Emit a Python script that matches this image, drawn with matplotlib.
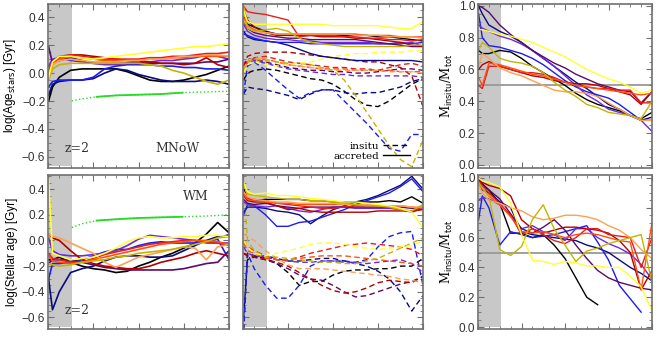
import matplotlib
matplotlib.use('Agg')
import matplotlib.pyplot as plt
from matplotlib.ticker import MultipleLocator, NullFormatter
from matplotlib.lines import Line2D
import numpy as np

nan = np.nan

# time grid shared by every track
t = [0.05, 0.4, 1, 2, 3, 4, 5, 6, 7, 8, 9, 10, 11, 12, 13, 14, 15, 16]
t_z2 = 2.1

# one colour per galaxy
colors = ['#000000', '#0a0a80', '#1c1cf0', '#6a2ae0', '#5a0a6a', '#b00000',
          '#e81c1c', '#ff5010', '#ffa050', '#c4b400', '#ffff30']

# log age, MNoW
age_mnow = [
    [-0.20, -0.10, -0.03, 0.02, 0.03, 0.03, 0.03, 0.03, 0.01, -0.02, -0.05, -0.06, -0.06, -0.05, -0.03, -0.01, 0.02, 0.05],
    [-0.16, -0.08, -0.06, -0.05, -0.05, -0.04, 0.00, 0.03, 0.02, -0.01, -0.03, -0.05, -0.06, -0.06, -0.06, -0.05, -0.06, -0.08],
    [-0.10, -0.06, -0.05, -0.05, -0.05, -0.03, 0.03, 0.05, 0.06, 0.06, 0.06, 0.05, 0.05, 0.04, 0.04, 0.03, 0.03, 0.02],
    [0.05, 0.10, 0.11, 0.09, 0.08, 0.07, 0.06, 0.06, 0.07, 0.08, 0.08, 0.09, 0.09, 0.10, 0.11, 0.13, 0.12, 0.10],
    [0.19, 0.07, 0.09, 0.11, 0.09, 0.07, 0.07, 0.07, 0.07, 0.07, 0.07, 0.07, 0.07, 0.07, 0.07, 0.08, 0.08, 0.10],
    [0.00, 0.08, 0.12, 0.13, 0.13, 0.12, 0.11, 0.10, 0.09, 0.08, 0.08, 0.07, 0.07, 0.06, 0.07, 0.11, 0.06, 0.04],
    [0.02, 0.07, 0.10, 0.13, 0.12, 0.11, 0.10, 0.10, 0.10, 0.10, 0.11, 0.11, 0.12, 0.12, 0.13, 0.14, 0.14, 0.15],
    [-0.02, 0.06, 0.10, 0.12, 0.11, 0.10, 0.09, 0.09, 0.09, 0.09, 0.10, 0.10, 0.11, 0.11, 0.12, 0.12, 0.12, 0.12],
    [0.00, 0.06, 0.09, 0.10, 0.09, 0.08, 0.08, 0.08, 0.09, 0.09, 0.10, 0.10, 0.11, 0.12, 0.12, 0.13, 0.13, 0.12],
    [-0.05, 0.03, 0.06, 0.07, 0.07, 0.07, 0.07, 0.07, 0.07, 0.07, 0.06, 0.05, 0.02, 0.00, -0.03, -0.06, -0.08, -0.05],
    [-0.03, 0.08, 0.12, 0.12, 0.11, 0.10, 0.11, 0.12, 0.13, 0.14, 0.15, 0.16, 0.17, 0.18, 0.19, 0.19, 0.20, 0.21],
]

# log age, WM
age_wm = [
    [-0.15, -0.15, -0.13, -0.17, -0.20, -0.22, -0.23, -0.25, -0.24, -0.20, -0.17, -0.13, -0.10, -0.06, -0.02, 0.05, 0.14, 0.06],
    [-0.30, -0.54, -0.40, -0.25, -0.22, -0.20, -0.16, -0.13, -0.12, -0.12, -0.13, -0.13, -0.12, -0.08, -0.04, 0.00, 0.03, 0.04],
    [-0.30, -0.18, -0.18, -0.17, -0.15, -0.12, -0.09, -0.07, -0.07, -0.04, -0.02, -0.01, -0.02, -0.02, -0.02, -0.01, 0.01, -0.15],
    [0.02, -0.08, -0.11, -0.12, -0.12, -0.11, -0.10, -0.08, -0.04, 0.01, 0.04, 0.03, 0.02, 0.01, 0.00, -0.02, -0.02, -0.02],
    [-0.18, -0.15, -0.15, -0.15, -0.17, -0.19, -0.21, -0.22, -0.23, -0.23, -0.23, -0.23, -0.23, -0.22, -0.20, -0.18, -0.17, -0.08],
    [0.05, 0.02, 0.00, -0.08, -0.15, -0.18, -0.20, -0.21, -0.22, -0.22, -0.20, -0.17, -0.15, -0.13, -0.10, -0.08, -0.10, -0.12],
    [-0.10, -0.14, -0.15, -0.17, -0.17, -0.14, -0.11, -0.09, -0.07, -0.05, -0.03, -0.02, -0.01, 0.00, 0.00, -0.01, -0.02, -0.04],
    [-0.12, -0.16, -0.17, -0.18, -0.17, -0.15, -0.13, -0.11, -0.09, -0.07, -0.05, -0.03, -0.02, -0.01, 0.00, 0.00, -0.01, -0.03],
    [0.05, 0.03, 0.02, -0.02, -0.06, -0.10, -0.17, -0.21, -0.17, -0.13, -0.11, -0.09, -0.07, -0.05, -0.06, -0.15, -0.05, -0.03],
    [-0.18, -0.19, -0.20, -0.19, -0.17, -0.16, -0.15, -0.13, -0.12, -0.10, -0.09, -0.08, -0.07, -0.05, -0.03, -0.01, 0.02, 0.03],
    [0.48, -0.10, -0.12, -0.15, -0.14, -0.13, -0.10, -0.06, -0.01, 0.02, 0.03, 0.02, 0.02, 0.03, 0.03, 0.04, 0.04, 0.03],
]

# reference track (green), dotted outside the solid stretch
green_t = [2.1, 3, 4.3, 6, 8, 10, 11.9, 14, 16]
green_mnow = [-0.20, -0.185, -0.17, -0.16, -0.155, -0.15, -0.14, -0.135, -0.13]
green_wm = [0.10, 0.13, 0.155, 0.165, 0.175, 0.18, 0.185, 0.19, 0.20]
green_solid = (4.3, 11.9)

# accreted (solid) and in-situ (dashed) ages, MNoW
acc_mnow = [
    [0.40, 0.35, 0.33, 0.30, 0.28, 0.27, 0.27, 0.27, 0.27, 0.27, 0.27, 0.27, 0.27, 0.26, 0.26, 0.25, 0.24, 0.23],
    [0.30, 0.26, 0.24, 0.23, 0.22, 0.20, 0.17, 0.14, 0.12, 0.11, 0.10, 0.09, 0.09, 0.09, 0.09, 0.09, 0.09, 0.08],
    [0.28, 0.27, 0.25, 0.23, 0.22, 0.22, 0.22, 0.21, 0.21, 0.21, 0.21, 0.21, 0.21, 0.21, 0.21, 0.22, 0.21, 0.22],
    [0.35, 0.30, 0.27, 0.25, 0.24, 0.24, 0.23, 0.23, 0.22, 0.22, 0.22, 0.22, 0.22, 0.21, 0.21, 0.21, 0.22, 0.19],
    [0.38, 0.32, 0.29, 0.27, 0.26, 0.25, 0.25, 0.24, 0.24, 0.24, 0.24, 0.24, 0.23, 0.22, 0.21, 0.20, 0.19, 0.19],
    [0.45, 0.38, 0.33, 0.29, 0.27, 0.27, 0.27, 0.27, 0.26, 0.26, 0.26, 0.25, 0.25, 0.24, 0.23, 0.22, 0.20, 0.19],
    [0.48, 0.44, 0.43, 0.42, 0.40, 0.38, 0.26, 0.27, 0.27, 0.27, 0.26, 0.26, 0.25, 0.25, 0.24, 0.24, 0.23, 0.24],
    [0.40, 0.34, 0.31, 0.29, 0.28, 0.28, 0.28, 0.28, 0.28, 0.28, 0.28, 0.28, 0.27, 0.27, 0.27, 0.26, 0.26, 0.26],
    [0.38, 0.33, 0.30, 0.29, 0.28, 0.28, 0.28, 0.28, 0.28, 0.28, 0.28, 0.27, 0.27, 0.27, 0.26, 0.26, 0.26, 0.25],
    [0.48, 0.32, 0.30, 0.31, 0.32, 0.30, 0.25, 0.22, 0.21, 0.20, 0.19, 0.19, 0.19, 0.19, 0.19, 0.19, 0.20, 0.20],
    [0.45, 0.37, 0.35, 0.35, 0.35, 0.35, 0.35, 0.35, 0.35, 0.34, 0.34, 0.34, 0.34, 0.34, 0.33, 0.32, 0.32, 0.37],
]
ins_mnow = [
    [-0.05, 0.00, 0.02, 0.03, 0.02, 0.00, -0.02, -0.04, -0.05, -0.08, -0.13, -0.19, -0.23, -0.24, -0.20, -0.14, -0.08, -0.04],
    [-0.15, -0.10, -0.11, -0.12, -0.14, -0.16, -0.19, -0.15, -0.12, -0.12, -0.14, -0.15, -0.14, -0.14, -0.12, -0.10, -0.06, -0.04],
    [-0.15, 0.05, 0.08, 0.02, -0.05, -0.12, -0.18, -0.14, -0.12, -0.12, -0.20, -0.28, -0.36, -0.45, -0.54, -0.56, -0.44, -0.44],
    [0.05, 0.08, 0.09, 0.07, 0.05, 0.03, 0.02, 0.01, 0.00, -0.01, -0.01, -0.02, -0.02, -0.02, -0.02, -0.02, -0.02, -0.03],
    [0.05, 0.10, 0.10, 0.08, 0.06, 0.04, 0.03, 0.02, 0.02, 0.01, 0.01, 0.00, 0.00, 0.01, 0.02, 0.03, 0.03, 0.02],
    [0.05, 0.12, 0.14, 0.15, 0.15, 0.15, 0.14, 0.13, 0.12, 0.11, 0.10, 0.09, 0.08, 0.08, 0.06, 0.04, -0.02, -0.24],
    [0.00, 0.08, 0.11, 0.12, 0.10, 0.08, 0.07, 0.06, 0.05, 0.04, 0.04, 0.03, 0.03, 0.02, 0.04, 0.06, 0.07, 0.05],
    [0.00, 0.08, 0.10, 0.10, 0.08, 0.06, 0.05, 0.04, 0.03, 0.03, 0.03, 0.02, 0.02, 0.02, 0.02, 0.01, 0.01, 0.01],
    [0.03, 0.09, 0.11, 0.10, 0.08, 0.06, 0.05, 0.04, 0.03, 0.02, 0.02, 0.02, 0.02, 0.02, 0.01, 0.01, 0.01, 0.00],
    [0.02, 0.08, 0.10, 0.09, 0.08, 0.07, 0.07, 0.06, 0.04, 0.02, -0.05, -0.16, -0.28, -0.40, -0.52, -0.62, -0.67, -0.48],
    [0.00, 0.06, 0.08, 0.06, 0.05, 0.06, 0.07, 0.08, 0.10, 0.12, 0.13, 0.14, 0.14, 0.15, 0.15, 0.15, 0.16, 0.16],
]

# accreted (solid) and in-situ (dashed) ages, WM
acc_wm = [
    [0.40, 0.33, 0.31, 0.32, 0.32, 0.32, 0.32, 0.31, 0.31, 0.30, 0.30, 0.30, 0.30, 0.30, 0.31, 0.30, 0.34, 0.29],
    [0.22, 0.26, 0.26, 0.25, 0.23, 0.22, 0.20, 0.13, 0.19, 0.24, 0.27, 0.30, 0.32, 0.35, 0.39, 0.43, 0.50, 0.40],
    [0.20, 0.28, 0.27, 0.20, 0.11, 0.11, 0.14, 0.15, 0.18, 0.21, 0.24, 0.28, 0.31, 0.34, 0.37, 0.42, 0.48, 0.38],
    [0.30, 0.28, 0.27, 0.26, 0.27, 0.25, 0.23, 0.22, 0.24, 0.26, 0.26, 0.25, 0.25, 0.25, 0.25, 0.24, 0.22, 0.25],
    [0.32, 0.29, 0.28, 0.29, 0.27, 0.26, 0.25, 0.26, 0.26, 0.26, 0.26, 0.26, 0.26, 0.26, 0.26, 0.26, 0.25, 0.26],
    [0.35, 0.31, 0.30, 0.30, 0.27, 0.24, 0.25, 0.23, 0.22, 0.22, 0.22, 0.22, 0.22, 0.23, 0.23, 0.23, 0.23, 0.24],
    [0.38, 0.33, 0.32, 0.31, 0.29, 0.28, 0.27, 0.26, 0.25, 0.25, 0.26, 0.27, 0.27, 0.27, 0.26, 0.24, 0.23, 0.26],
    [0.36, 0.32, 0.31, 0.30, 0.29, 0.29, 0.28, 0.28, 0.28, 0.28, 0.28, 0.28, 0.28, 0.27, 0.27, 0.27, 0.26, 0.25],
    [0.38, 0.34, 0.32, 0.31, 0.30, 0.30, 0.29, 0.29, 0.29, 0.29, 0.28, 0.28, 0.28, 0.27, 0.27, 0.27, 0.26, 0.26],
    [0.45, 0.36, 0.35, 0.34, 0.33, 0.32, 0.32, 0.31, 0.31, 0.30, 0.29, 0.28, 0.27, 0.27, 0.26, 0.24, 0.23, 0.28],
    [0.45, 0.38, 0.36, 0.37, 0.35, 0.35, 0.34, 0.33, 0.32, 0.31, 0.30, 0.30, 0.29, 0.28, 0.27, 0.25, 0.22, 0.10],
]
ins_wm = [
    [-0.70, -0.10, -0.12, -0.14, -0.18, -0.25, -0.35, -0.32, -0.32, -0.27, -0.24, -0.23, -0.23, -0.22, -0.22, -0.20, -0.20, -0.14],
    [-0.60, -0.15, -0.13, -0.12, -0.14, -0.16, -0.16, -0.15, -0.14, -0.14, -0.16, -0.18, -0.20, -0.24, -0.30, -0.40, -0.55, -0.43],
    [-0.70, -0.10, -0.22, -0.35, -0.45, -0.45, -0.35, -0.20, -0.16, -0.16, -0.16, -0.17, -0.15, -0.05, 0.03, 0.06, 0.07, -0.35],
    [-0.05, -0.10, -0.12, -0.13, -0.15, -0.16, -0.17, -0.17, -0.16, -0.16, -0.17, -0.17, -0.18, -0.17, -0.16, -0.15, -0.18, -0.25],
    [-0.10, -0.12, -0.13, -0.15, -0.18, -0.22, -0.27, -0.30, -0.31, -0.35, -0.40, -0.44, -0.43, -0.40, -0.37, -0.34, -0.32, -0.28],
    [-0.10, -0.12, -0.13, -0.15, -0.17, -0.20, -0.25, -0.30, -0.35, -0.39, -0.41, -0.40, -0.37, -0.33, -0.31, -0.32, -0.33, -0.28],
    [0.00, -0.05, -0.08, -0.12, -0.15, -0.15, -0.13, -0.10, -0.08, -0.06, -0.04, -0.03, -0.02, -0.03, -0.04, -0.05, -0.07, -0.12],
    [-0.02, -0.08, -0.10, -0.14, -0.15, -0.15, -0.14, -0.13, -0.12, -0.12, -0.12, -0.13, -0.14, -0.15, -0.16, -0.17, -0.18, -0.20],
    [0.05, 0.03, 0.00, -0.08, -0.14, -0.19, -0.22, -0.22, -0.22, -0.23, -0.24, -0.25, -0.26, -0.27, -0.28, -0.30, -0.31, -0.33],
    [0.45, 0.00, -0.08, -0.13, -0.13, -0.14, -0.15, -0.16, -0.17, -0.17, -0.18, -0.18, -0.16, -0.14, -0.10, -0.06, -0.02, 0.02],
    [0.00, -0.05, -0.10, -0.12, -0.10, -0.08, -0.06, -0.03, -0.02, -0.02, -0.03, -0.05, -0.06, -0.07, -0.06, -0.05, -0.04, 0.00],
]

# in-situ mass fraction
frac_mnow = [
    [0.72, 0.70, 0.70, 0.72, 0.71, 0.67, 0.62, 0.58, 0.54, 0.50, 0.45, 0.41, 0.38, 0.36, 0.34, 0.31, 0.29, 0.33],
    [1.00, 0.95, 0.88, 0.84, 0.81, 0.77, 0.72, 0.67, 0.62, 0.57, 0.52, 0.48, 0.43, 0.38, 0.35, 0.31, 0.28, 0.30],
    [0.95, 0.80, 0.75, 0.74, 0.72, 0.70, 0.67, 0.63, 0.58, 0.53, 0.49, 0.46, 0.44, 0.42, 0.38, 0.33, 0.28, 0.28],
    [0.88, 0.86, 0.84, 0.81, 0.79, 0.76, 0.72, 0.67, 0.62, 0.56, 0.50, 0.44, 0.40, 0.35, 0.33, 0.31, 0.28, 0.21],
    [1.00, 0.99, 0.96, 0.88, 0.82, 0.77, 0.72, 0.68, 0.64, 0.61, 0.57, 0.54, 0.51, 0.49, 0.47, 0.46, 0.39, 0.46],
    [0.60, 0.63, 0.65, 0.62, 0.60, 0.58, 0.56, 0.55, 0.53, 0.52, 0.51, 0.51, 0.50, 0.48, 0.46, 0.44, 0.38, 0.46],
    [0.50, 0.48, 0.62, 0.62, 0.60, 0.58, 0.58, 0.57, 0.55, 0.52, 0.50, 0.49, 0.48, 0.48, 0.47, 0.47, 0.39, 0.39],
    [0.55, 0.50, 0.64, 0.63, 0.61, 0.59, 0.57, 0.56, 0.54, 0.52, 0.50, 0.49, 0.48, 0.47, 0.46, 0.45, 0.44, 0.45],
    [0.62, 0.70, 0.67, 0.61, 0.58, 0.56, 0.53, 0.50, 0.47, 0.46, 0.46, 0.45, 0.43, 0.39, 0.35, 0.31, 0.28, 0.28],
    [0.72, 0.77, 0.74, 0.67, 0.65, 0.64, 0.62, 0.58, 0.52, 0.47, 0.43, 0.38, 0.36, 0.33, 0.32, 0.31, 0.29, 0.40],
    [0.85, 0.85, 0.84, 0.82, 0.81, 0.79, 0.77, 0.74, 0.71, 0.68, 0.64, 0.60, 0.57, 0.54, 0.52, 0.49, 0.45, 0.47],
]
frac_wm = [
    [1.00, 0.96, 0.92, 0.83, 0.63, 0.63, 0.60, 0.62, 0.55, 0.46, 0.33, 0.20, 0.15, nan, nan, nan, nan, nan],
    [0.98, 0.92, 0.90, 0.84, 0.80, 0.64, 0.62, 0.61, 0.60, 0.59, 0.58, 0.55, 0.53, 0.50, 0.45, 0.40, 0.36, 0.31],
    [0.72, 0.88, 0.80, 0.55, 0.64, 0.62, 0.60, 0.61, 0.62, 0.64, 0.66, 0.68, 0.57, 0.45, 0.28, 0.19, 0.10, nan],
    [0.85, 0.87, 0.86, 0.82, 0.75, 0.66, 0.68, 0.64, 0.62, 0.58, 0.66, 0.66, 0.60, 0.56, 0.53, 0.49, 0.42, 0.32],
    [1.00, 0.95, 0.92, 0.86, 0.76, 0.66, 0.63, 0.67, 0.72, 0.65, 0.55, 0.46, 0.38, 0.33, 0.30, 0.28, 0.26, 0.25],
    [1.00, 0.97, 0.95, 0.93, 0.88, 0.72, 0.66, 0.63, 0.65, 0.67, 0.67, 0.66, 0.65, 0.63, 0.58, 0.50, 0.25, 0.38],
    [0.98, 0.95, 0.90, 0.83, 0.75, 0.62, 0.66, 0.62, 0.58, 0.56, 0.60, 0.66, 0.66, 0.62, 0.61, 0.60, 0.40, 0.60],
    [0.97, 0.93, 0.88, 0.82, 0.74, 0.64, 0.63, 0.64, 0.62, 0.60, 0.62, 0.63, 0.62, 0.60, 0.58, 0.57, 0.25, 0.70],
    [0.95, 0.90, 0.85, 0.83, 0.80, 0.78, 0.74, 0.72, 0.73, 0.75, 0.75, 0.74, 0.72, 0.68, 0.65, 0.60, 0.52, 0.46],
    [0.97, 0.93, 0.88, 0.52, 0.48, 0.54, 0.72, 0.82, 0.66, 0.55, 0.44, 0.51, 0.53, 0.56, 0.58, 0.60, 0.62, 0.30],
    [1.00, 0.98, 0.97, 0.94, 0.83, 0.62, 0.45, 0.44, 0.42, 0.44, 0.43, 0.41, 0.41, 0.40, 0.40, 0.34, 0.27, 0.11],
]

W, H = 664, 360
FRAME = '#707070'
SERIF = 'DejaVu Serif'
plt.rcParams['font.family'] = ['Liberation Sans', 'DejaVu Sans']


def px_axes(fig, x0, y0, x1, y1):
    # pixel box (top-left origin) -> figure axes
    return fig.add_axes([x0 / W, 1 - y1 / H, (x1 - x0) / W, (y1 - y0) / H])


def style_axes(ax, ylim, ymajor, ylabels=True):
    ax.set_xlim(0, 16)
    ax.set_ylim(*ylim)
    ax.xaxis.set_major_locator(MultipleLocator(4))
    ax.xaxis.set_minor_locator(MultipleLocator(1))
    ax.xaxis.set_major_formatter(NullFormatter())
    ax.yaxis.set_major_locator(MultipleLocator(ymajor))
    ax.yaxis.set_minor_locator(MultipleLocator(ymajor / 4))
    ax.tick_params(which='both', direction='in', top=True, right=True,
                   color=FRAME, labelsize=8.5, labelcolor='#333333', pad=2)
    ax.tick_params(which='major', length=4, width=0.8)
    ax.tick_params(which='minor', length=2, width=0.6)
    if not ylabels:
        ax.yaxis.set_major_formatter(NullFormatter())
    for s in ax.spines.values():
        s.set_color(FRAME)
        s.set_linewidth(1.2)
    ax.axvspan(0.08, t_z2, ymin=0.015, ymax=1, color='#c8c8c8', lw=0, zorder=0)


def draw_tracks(ax, tracks, ls='-', lw=1.0):
    for c, y in zip(colors, tracks):
        ax.plot(t, y, color=c, ls=ls, lw=lw, zorder=2)


def draw_green(ax, values):
    gt = np.array(green_t)
    gv = np.array(values)
    ax.plot(gt, gv, color='#22dd22', ls=':', lw=1.0, zorder=2)
    m = (gt >= green_solid[0]) & (gt <= green_solid[1])
    ax.plot(gt[m], gv[m], color='#22dd22', ls='-', lw=1.3, zorder=2)


fig = plt.figure(figsize=(W / 100, H / 100), dpi=100)

age_lim_top = (-0.68, 0.495)
age_lim_bot = (-0.69, 0.51)

# left column: ages
ax = px_axes(fig, 48, 4, 229, 168)
style_axes(ax, age_lim_top, 0.2)
draw_tracks(ax, age_mnow, lw=1.2)
draw_green(ax, green_mnow)
ax.set_ylabel(r'log(Age$_{\rm stars}$) [Gyr]', fontsize=8.5, labelpad=3)
ax.text(0.09, 0.10, 'z=2', transform=ax.transAxes, family=SERIF, fontsize=9, color='#333333')
ax.text(0.84, 0.10, 'MNoW', transform=ax.transAxes, family=SERIF, fontsize=9,
        color='#333333', ha='right')

ax = px_axes(fig, 48, 175, 229, 329)
style_axes(ax, age_lim_bot, 0.2)
draw_tracks(ax, age_wm, lw=1.2)
draw_green(ax, green_wm)
ax.set_ylabel('log(Stellar age) [Gyr]', fontsize=8.5, labelpad=3)
ax.text(0.09, 0.10, 'z=2', transform=ax.transAxes, family=SERIF, fontsize=9, color='#333333')
ax.text(0.89, 0.84, 'WM', transform=ax.transAxes, family=SERIF, fontsize=9,
        color='#333333', ha='right')

# middle column: accreted vs in-situ
ax = px_axes(fig, 243, 4, 423, 168)
style_axes(ax, age_lim_top, 0.2, ylabels=False)
draw_tracks(ax, ins_mnow, ls=(0, (4, 2.5)))
draw_tracks(ax, acc_mnow)
handles = [Line2D([], [], color='black', ls=(0, (4, 2.5)), lw=1.0),
           Line2D([], [], color='black', ls='-', lw=1.0)]
ax.legend(handles, ['insitu', 'accreted'], loc='lower right', markerfirst=False,
          frameon=False, handlelength=2.6, handletextpad=0.4, labelspacing=0.05,
          borderaxespad=0.3, bbox_to_anchor=(0.97, 0.0),
          prop={'family': SERIF, 'size': 7.5})

ax = px_axes(fig, 243, 175, 423, 329)
style_axes(ax, age_lim_bot, 0.2, ylabels=False)
draw_tracks(ax, ins_wm, ls=(0, (4, 2.5)))
draw_tracks(ax, acc_wm)

# right column: in-situ mass fraction
ax = px_axes(fig, 478, 4, 652, 168)
style_axes(ax, (-0.02, 1.012), 0.2)
ax.axhline(0.5, color='#999999', lw=1.3, zorder=1)
draw_tracks(ax, frac_mnow)
ax.set_ylabel(r'M$_{\rm insitu}$/M$_{\rm tot}$', fontsize=8.5, family=SERIF, labelpad=3)

ax = px_axes(fig, 478, 175, 652, 329)
style_axes(ax, (-0.013, 1.02), 0.2)
ax.axhline(0.5, color='#999999', lw=1.3, zorder=1)
draw_tracks(ax, frac_wm)
ax.set_ylabel(r'M$_{\rm insitu}$/M$_{\rm tot}$', fontsize=8.5, family=SERIF, labelpad=3)

fig.savefig('out.png', dpi=100)
